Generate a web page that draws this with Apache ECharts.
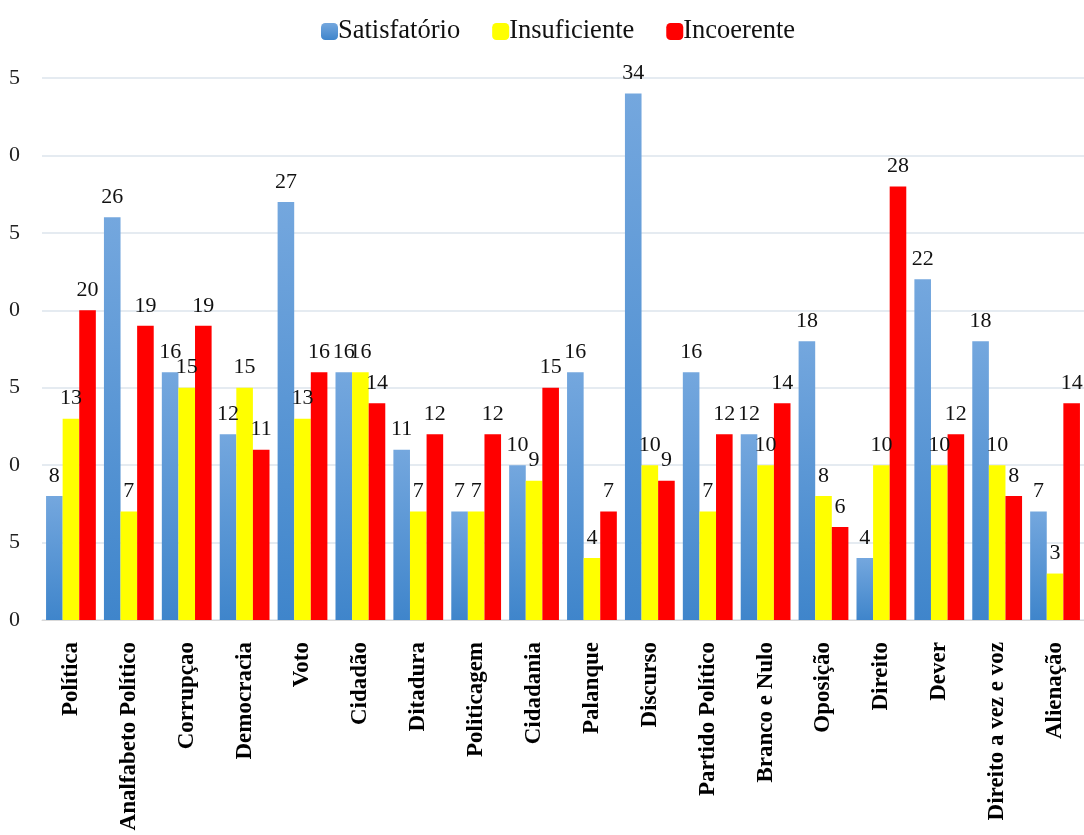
<!DOCTYPE html>
<html><head><meta charset="utf-8">
<script src="https://cdn.jsdelivr.net/npm/echarts@6/dist/echarts.min.js"></script>
<style>html,body{margin:0;padding:0;background:#fff}#c{width:1084px;height:835px}</style>
</head><body><div id="c"></div>
<script>
const categories = ["Política","Analfabeto Político","Corrupçao","Democracia","Voto","Cidadão","Ditadura","Politicagem","Cidadania","Palanque","Discurso","Partido Político","Branco e Nulo","Oposição","Direito","Dever","Direito a vez e voz","Alienação"];
const satisfatorio = [8,26,16,12,27,16,11,7,10,16,34,16,12,18,4,22,18,7];
const insuficiente = [13,7,15,15,13,16,7,7,9,4,10,7,10,8,10,10,10,3];
const incoerente = [20,19,19,11,16,14,12,12,15,7,9,12,14,6,28,12,8,14];
const seriesNames = ["Satisfatório","Insuficiente","Incoerente"];

const font = "'Liberation Serif','Times New Roman',serif";
const chart = echarts.init(document.getElementById('c'));
const lbl = {show:true, position:'top', distance:9, color:'#111', fontFamily:font, fontSize:22};
chart.setOption({
  animation:false,
  textStyle:{fontFamily:font},
  legend:{top:13, left:316, itemWidth:17, itemHeight:17, itemGap:32,
    textStyle:{fontFamily:font, fontSize:26.5, color:'#111', padding:[0,0,0,-5]},
    data:seriesNames},
  grid:{left:42, right:0, top:78, bottom:215, containLabel:false},
  xAxis:{type:'category', data:categories,
    axisLine:{lineStyle:{color:'#d9d9d9'}}, axisTick:{show:false},
    axisLabel:{rotate:90, interval:0, fontFamily:font, fontWeight:'bold', fontSize:23, color:'#000', margin:22}},
  yAxis:{type:'value', min:0, max:35, interval:5,
    axisLine:{show:false}, axisTick:{show:false},
    splitLine:{lineStyle:{color:'#dde4ec', width:1.5}},
    axisLabel:{fontFamily:font, fontSize:22, color:'#222', margin:22,
      formatter:v=>String(v).slice(-1)}},
  series:[
    {name:seriesNames[0], type:'bar', data:satisfatorio, barGap:'0%', barCategoryGap:'14%',
      itemStyle:{color:new echarts.graphic.LinearGradient(0,0,0,1,[{offset:0,color:'#74a7de'},{offset:1,color:'#3f85cb'}])},
      label:lbl},
    {name:seriesNames[1], type:'bar', data:insuficiente, barGap:'0%', barCategoryGap:'14%',
      itemStyle:{color:'#ffff00'}, label:lbl},
    {name:seriesNames[2], type:'bar', data:incoerente, barGap:'0%', barCategoryGap:'14%',
      itemStyle:{color:'#ff0000'}, label:lbl}
  ]
});
</script></body></html>
